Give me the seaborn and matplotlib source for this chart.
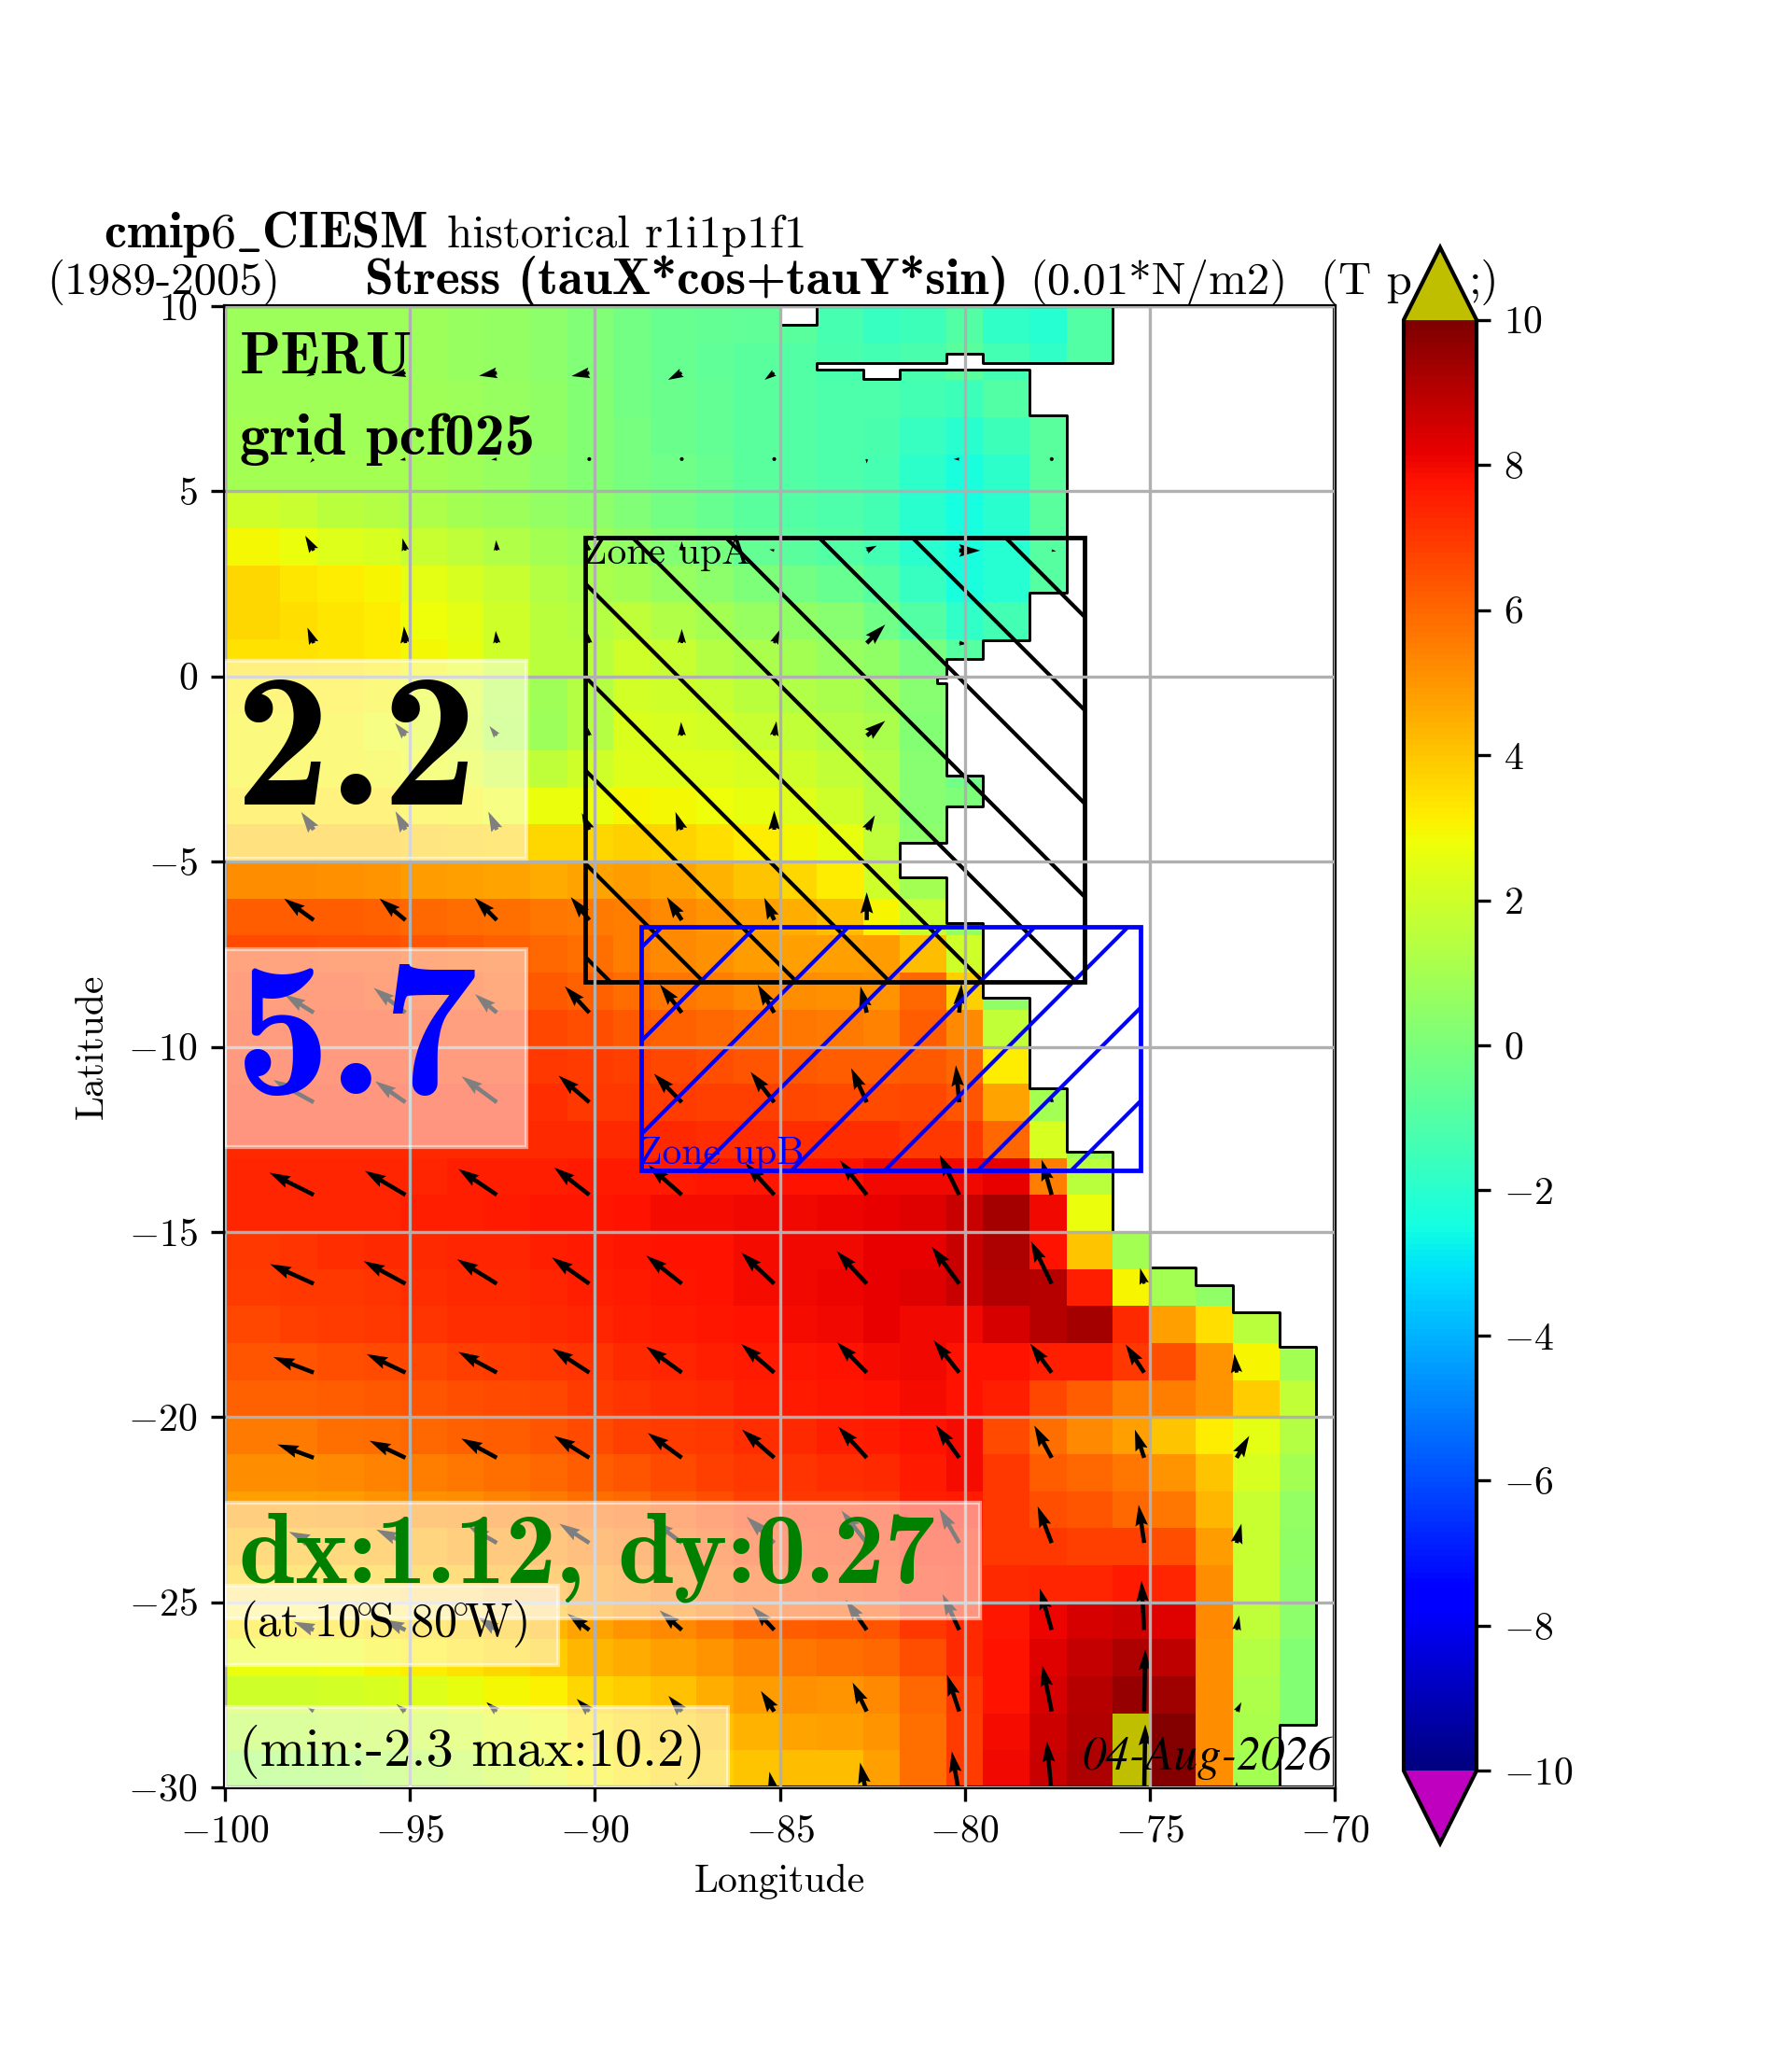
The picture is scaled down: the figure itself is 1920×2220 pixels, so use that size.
import numpy as np
import pandas as pd
import matplotlib
matplotlib.use('Agg')
import matplotlib.pyplot as plt
import seaborn as sns
from matplotlib.patches import Polygon, Rectangle

nan = np.nan

plt.rcParams['font.family'] = ['cmr10']
plt.rcParams['mathtext.fontset'] = 'cm'
plt.rcParams['axes.formatter.use_mathtext'] = True
plt.rcParams['axes.unicode_minus'] = True

# stress values, one row per degree of latitude from 10N down to 30S, west to east
row_09 = [.8,.8,.8,.8,.8,.7,.6,.4,.1,-.2,-.5,-.6,-.7,-.8,-1.3,-1.7,-1.5,-1.0,-1.8,-2.1,-1.0]
row_08 = [.8,.8,.8,.8,.8,.7,.6,.4,.1,-.2,-.5,-.7,-.8,-1,-1.2,-1.4,-1.2,-.8,-1.4,-1.8,-1]
row_07 = [.9,.9,.9,.9,.9,.8,.7,.5,.2,-.2,-.4,-.6,-.8,-1,-1.1,-1.1,-1.4,-1.5,-1,-.8]
row_06 = [1,.9,.9,.9,.9,.8,.7,.5,.2,-.1,-.4,-.6,-.8,-1,-1.1,-1.2,-1.7,-2,-1.5,-.8]
row_05 = [1,1,1,1,1,.9,.7,.4,.2,-.1,-.3,-.5,-.8,-1,-1.1,-1.3,-1.9,-2.4,-1.9,-.8]
row_04 = [2,1.8,1.5,1.4,1.2,1,.8,.6,.4,.1,-.2,-.5,-.8,-1,-1.1,-1.4,-2,-2.5,-2,-.8]
row_03 = [2.9,2.7,2.4,2.2,1.8,1.6,1.3,1,.8,.5,.2,-.1,-.6,-.8,-1,-1.4,-2,-2.4,-2.1,-.9]
row_02 = [3.6,3.3,3.2,3,2.5,2.2,1.8,1.4,1.1,1,.7,.4,0,-.2,-.5,-.9,-1.7,-2.4,-2.1,-.9]
row_01 = [3.6,3.5,3.3,3.2,2.8,2.5,2,1.5,1.4,1.6,1.3,1,.7,.5,.3,-.3,-1,-1.8,-1.4]
row_00 = [3.4,3.4,3.3,3.2,2.9,2.6,2,1.5,1.5,2,1.8,1.4,1.1,1,.7,.5,-.1,-.9]
row_s1 = [3.2,3.2,3.2,3,2.6,2.3,1.4,.9,1.4,2.1,2,1.8,1.5,1.3,1.1,.9,.3]
row_s2 = [3,3,3,2.8,2.5,2.2,1.3,.8,1.4,2.3,2.2,2.1,1.8,1.7,1.4,1.1,.2]
row_s3 = [3,3,3,2.9,2.8,2.5,2,1.6,2,2.4,2.4,2.4,2.2,2,1.7,1.3,.3,-.3]
row_s4 = [3.3,3.3,3.3,3.3,3.1,3,2.8,2.7,2.7,3,2.9,2.8,2.6,2.4,2,1.4,.3,0]
row_s5 = [4,4,4,4,3.9,3.8,3.7,3.6,3.6,3.8,3.7,3.5,3.2,2.9,2.6,1.6,.4]
row_s6 = [5.2,5.2,5.1,5,4.9,4.8,4.7,4.6,4.7,4.9,4.7,4.4,4,3.6,3.2,2,1]
row_s7 = [6.2,6.2,6.2,6.1,6,5.9,5.8,5.7,5.6,5.5,5.3,5,4.8,4.5,4.2,3,1.8,.6]
row_s8 = [6.6,6.6,6.5,6.5,6.4,6.3,6.1,6,5.8,5.5,5.3,5.1,4.9,4.8,4.8,4.9,4.2,2]
row_s9 = [6.8,6.8,6.8,6.7,6.6,6.5,6.4,6.3,6.1,5.9,5.7,5.5,5.3,5.2,5.1,5,6,3.8,.5]
row_s10 = [7,7,7,7,6.9,6.8,6.8,6.7,6.5,6.3,6.1,6,5.8,5.7,5.6,5.4,6.2,5.3,1.7]
row_s11 = [7.1,7.1,7.1,7.1,7,7,7,7,6.9,6.8,6.7,6.5,6.4,6.3,6.2,6.2,6.3,6,3.2]
row_s12 = [7.2,7.2,7.2,7.2,7.2,7.2,7.2,7.2,7,7,6.9,6.8,6.8,6.7,6.6,6.6,6.7,6.4,4.7,1]
row_s13 = [7.3,7.3,7.3,7.3,7.3,7.3,7.3,7.3,7.3,7.3,7.3,7.2,7.2,7.2,7.2,7.2,7,7,6,2.2,.8]
row_s14 = [7.4,7.4,7.4,7.4,7.4,7.5,7.5,7.5,7.6,7.6,7.6,7.7,7.7,7.8,7.8,8,8,8,8.2,5.5,1.5]
row_s15 = [7.4,7.4,7.4,7.4,7.5,7.5,7.6,7.7,7.7,7.8,7.9,7.9,8,8,8.1,8.2,8.3,8.7,9.3,8,2.7]
row_s16 = [7,7.1,7.2,7.3,7.3,7.4,7.4,7.5,7.6,7.7,7.8,7.8,7.9,8,8,8.2,8.2,8.7,9.2,7.8,4,1,1]
row_s17 = [6.9,7,7,7.1,7.2,7.3,7.3,7.4,7.5,7.6,7.7,7.8,7.9,8,8.1,8.2,8.3,8.7,9.1,9,7.5,3,1,.5]
row_s18 = [6.7,6.8,6.9,7,7.1,7.2,7.2,7.3,7.4,7.5,7.6,7.7,7.8,7.9,8,8.2,8,8,8.5,9,9.3,7.3,4.8,3.5,1.5]
row_s19 = [6.4,6.4,6.5,6.6,6.7,6.8,6.9,7,7.1,7.3,7.4,7.5,7.6,7.7,7.8,7.9,8,7.8,7.8,7.5,7.5,7,6.5,5,3,1]
row_s20 = [6.1,6.1,6.2,6.3,6.4,6.5,6.6,6.7,6.9,7.1,7.2,7.3,7.5,7.6,7.7,7.8,7.9,7.8,7.5,6.7,6.2,5.5,5.5,5,3.9,1.7]
row_s21 = [5.6,5.6,5.8,5.9,6,6.1,6.2,6.4,6.6,6.8,6.9,7,7.2,7.3,7.5,7.6,7.8,7.9,6.6,5.8,5.3,4.8,4,3.2,2.5,1.4]
row_s22 = [5.2,5.2,5.3,5.4,5.5,5.7,5.8,6,6.2,6.4,6.6,6.8,7,7.1,7.2,7.3,7.6,7.9,7,6.2,6,5.7,5,4,2.2,1]
row_s23 = [4.8,4.8,4.9,5,5.1,5.2,5.4,5.6,5.8,6,6.3,6.5,6.8,7,7,7.1,7.5,7.6,7,6.5,6.4,6,5.7,4.3,1.8,.6]
row_s24 = [4.3,4.3,4.4,4.5,4.6,4.8,5,5.2,5.4,5.7,6,6.3,6.6,6.8,6.9,7,7.4,7.4,7,7,6.8,6.8,6.5,4.9,1.8,.5]
row_s25 = [3.8,3.8,3.8,3.9,4.1,4.2,4.5,4.7,5,5.3,5.6,6,6.3,6.5,6.7,6.8,7.2,7.3,7.3,7.4,7.4,7.6,7.4,5.2,1.8,.4]
row_s26 = [3.3,3.3,3.4,3.5,3.6,3.8,4,4.3,4.7,5,5.3,5.6,6,6.2,6.3,6.4,7,7.3,7.7,8.1,8.5,8.6,8.3,5.3,1.6,.4]
row_s27 = [2.7,2.7,2.8,3,3.2,3.4,3.6,3.9,4.3,4.6,4.8,5,5.4,5.7,5.8,6,6.5,7.3,7.8,8.3,8.8,9.2,8.9,5.2,1.4,.2]
row_s28 = [2,2,2.1,2.2,2.4,2.6,2.9,3.1,3.6,3.9,4.1,4.5,4.9,5.1,5,5.3,6,7,7.8,8.5,9,9.6,9.4,5.2,1.2,.2]
row_s29 = [1.5,1.5,1.6,1.7,1.9,2.1,2.5,2.8,3.3,3.6,3.8,4.1,4.4,4.7,4.8,5,5.8,6.9,7.9,8.6,9.1,10.2,9.9,5.2,1.1,.2]
row_s30 = [.8,.9,1,1.2,1.4,1.6,2,2.5,3,3.3,3.6,3.8,4,4.2,4.2,4.8,5.8,6.9,8,8.7,9.2,10.2,9.9,5.2,1]
stress_rows = [row_09, row_08, row_07, row_06, row_05, row_04, row_03, row_02, row_01, row_00,
               row_s1, row_s2, row_s3, row_s4, row_s5, row_s6, row_s7, row_s8, row_s9, row_s10,
               row_s11, row_s12, row_s13, row_s14, row_s15, row_s16, row_s17, row_s18, row_s19, row_s20,
               row_s21, row_s22, row_s23, row_s24, row_s25, row_s26, row_s27, row_s28, row_s29, row_s30]

# model columns sit on the 0.25 degree plotting grid, so they come out 1 or 1.25 wide
col_cells = [6] + [4, 5] * 12 + [4, 2]

# wind stress arrows, tails at these positions
arrow_lon = [-97.6, -95.12, -92.65, -90.15, -87.65, -85.15, -82.65, -80.15, -77.65, -75.15, -72.65]
arrow_lat = [8.2, 5.87, 3.4, .9, -1.6, -4.14, -6.58, -9.08, -11.5, -14, -16.4, -18.8, -21.1, -23.4, -25.75, -27.95, -30.2]
arrow_u = [
    [-.2,-.38,-.48,-.48,-.37,-.26,nan,nan,nan,nan,nan],
    [-.1,-.15,-.15,-.1,0,0,0,-.15,0,nan,nan],
    [-.23,-.08,-.02,-.05,0,-.13,.27,.57,.12,nan,nan],
    [-.17,-.04,-.03,-.04,0,.15,.5,.22,nan,nan,nan],
    [-.2,-.28,-.2,-.04,-.02,.06,.5,nan,nan,nan,nan],
    [-.34,-.27,-.23,-.2,-.17,0,.22,nan,nan,nan,nan],
    [-.8,-.7,-.6,-.5,-.4,-.27,0,nan,nan,nan,nan],
    [-.79,-.86,-.59,-.66,-.59,-.45,-.17,.06,nan,nan,nan],
    [-1.09,-.82,-.95,-.83,-.75,-.64,-.42,-.09,0,nan,nan],
    [-1.2,-1.1,-1.04,-.95,-.9,-.78,-.72,-.53,-.27,nan,nan],
    [-1.18,-1.13,-1.07,-1.01,-.96,-.89,-.81,-.74,-.56,-.11,nan],
    [-1.09,-1.05,-1.04,-1,-.96,-.89,-.8,-.69,-.58,-.5,-.06],
    [-.98,-.97,-.96,-.95,-.92,-.87,-.77,-.63,-.47,-.25,.34],
    [-.67,-.79,-.77,-.81,-.79,-.75,-.68,-.54,-.38,-.15,.13],
    [-.54,-.6,-.51,-.59,-.6,-.59,-.57,-.45,-.32,-.07,.07],
    [-.17,-.24,-.28,-.34,-.36,-.36,-.38,-.33,-.25,.03,.13],
    [-.1,-.1,-.15,-.15,-.2,-.13,-.18,-.2,-.13,.03,0],
]
arrow_v = [
    [-.1,-.08,-.08,-.09,-.19,-.19,nan,nan,nan,nan,nan],
    [-.1,-.03,-.02,-.03,0,0,-.12,0,0,nan,nan],
    [.4,.33,.28,.2,.25,.03,.13,0,-.02,nan,nan],
    [.42,.45,.33,.27,.38,.36,.5,-.02,nan,nan,nan],
    [.3,.34,.26,.22,.37,.39,.4,nan,nan,nan,nan],
    [.48,.5,.49,.45,.48,.52,.39,nan,nan,nan,nan],
    [.58,.58,.6,.62,.62,.6,.75,nan,nan,nan,nan],
    [.49,.67,.5,.71,.76,.76,.71,.78,nan,nan,nan],
    [.6,.57,.7,.72,.77,.82,.92,1,.2,nan,nan],
    [.6,.65,.7,.74,.8,.86,.93,1.08,.95,nan,nan],
    [.53,.61,.66,.71,.76,.84,.88,1,1.15,.42,nan],
    [.42,.5,.56,.65,.7,.77,.82,.87,.78,.76,.51],
    [.36,.46,.52,.59,.67,.76,.84,.88,.87,.76,.59],
    [.3,.36,.45,.52,.6,.71,.87,.93,.99,1.03,.52],
    [.22,.28,.36,.44,.53,.63,.82,.97,1.12,1.33,.39],
    [.11,.19,.25,.34,.42,.55,.78,.99,1.24,1.68,.25],
    [.1,.15,.2,.25,.35,.62,.87,1.17,1.45,1.9,.35],
]

# ocean edge
coast_notch_lon = [-85, -85, -84, -84]
coast_notch_lat = [10, 9.5, 9.5, 10]
coast_lon = [-76,-76,-79.5,-79.5,-80.5,-80.5,-84,-84,-82.75,-82.75,-81.75,-81.75,-78.25,-78.25,-77.25,-77.25,-78.25,-78.25,
             -79.5,-79.5,-80.5,-80.5,-80.75,-80.75,-80.5,-80.5,-79.5,-79.5,-80.5,-80.5,-81.75,-81.75,-80.5,-80.5,-79.5,-79.5,
             -78.25,-78.25,-77.25,-77.25,-76,-76,-75,-75,-73.75,-73.75,-72.75,-72.75,-71.5,-71.5,-70.5,-70.5,-71.5,-71.5]
coast_lat = [10,8.46,8.46,8.71,8.71,8.46,8.46,8.29,8.29,8.03,8.03,8.29,8.29,7.05,7.05,2.25,2.25,.98,
             .98,.47,.47,-.03,-.03,-.18,-.18,-2.68,-2.68,-3.52,-3.52,-4.5,-4.5,-5.43,-5.43,-6.67,-6.67,-8.68,
             -8.68,-11.12,-11.12,-12.83,-12.83,-15,-15,-15.97,-15.97,-16.45,-16.45,-17.17,-17.17,-18.1,-18.1,-28.3,-28.3,-30]

# boxes behind the annotations: lon0, lon1, lat0, lat1
box_mean_a = [-100, -91.85, -4.92, .42]
box_mean_b = [-100, -91.85, -12.7, -7.36]
box_res = [-100, -79.6, -25.43, -22.31]
box_at = [-100, -90.98, -26.7, -24.55]
box_minmax = [-100, -86.4, -30, -27.83]

# upwelling zones: lon0, lon1, lat0, lat1
zone_a = [-90.25, -76.75, -8.25, 3.75]
zone_b = [-88.75, -75.25, -13.35, -6.75]

x_ticks = [-100, -95, -90, -85, -80, -75, -70]
y_ticks = [-30, -25, -20, -15, -10, -5, 0, 5, 10]
cbar_ticks = [-10, -8, -6, -4, -2, 0, 2, 4, 6, 8, 10]

W, H = 1920, 2220
fig = plt.figure(figsize=(6.4, 7.4), dpi=300)
rect = [241 / W, 1 - 1915 / H, 1189 / W, 1587 / H]
ax_map = fig.add_axes(rect)
ax = fig.add_axes(rect)
ax.patch.set_visible(False)
cax = fig.add_axes([1504 / W, 1 - 1975 / H, 78 / W, 1710 / H])

# heatmap on its own cell grid, lon/lat axes laid over it
table = np.array([r + [nan] * (len(col_cells) - len(r)) for r in stress_rows], dtype=float)
table = pd.DataFrame(np.repeat(table, col_cells, axis=1))
cmap = plt.get_cmap('jet').copy()
cmap.set_under('m')
cmap.set_over((.75, .75, 0))
sns.heatmap(table, vmin=-10, vmax=10, cmap=cmap, ax=ax_map, cbar_ax=cax,
            cbar_kws={'extend': 'both'}, xticklabels=False, yticklabels=False)
ax_map.axis('off')

ax.set_xlim(-100, -70)
ax.set_ylim(-30, 10)

# cut the mesh along the coast
ocean = list(zip([-100, -100] + coast_notch_lon + coast_lon, [-30, 10] + coast_notch_lat + coast_lat))
mesh = ax_map.collections[0]
mesh.set_clip_path(Polygon(ocean, closed=True, transform=ax.transData))

ax.quiver(arrow_lon, arrow_lat, np.array(arrow_u), np.array(arrow_v), angles='xy', scale_units='xy',
          scale=1, width=0.0038, color='k', zorder=1)

ax.plot(coast_notch_lon, coast_notch_lat, color='k', lw=.7, zorder=1.5)
ax.plot(coast_lon, coast_lat, color='k', lw=.7, zorder=1.5)


def zone(bounds, color, sign, first):
    lon0, lon1, lat0, lat1 = bounds
    frame = Rectangle((lon0, lat0), lon1 - lon0, lat1 - lat0, fill=False, ec=color, lw=1.15, zorder=2)
    ax.add_patch(frame)
    # hatch lines 2.52 degrees apart, 45 degrees on the page
    for c in np.arange(-12, 12) * 2.52 + first:
        line, = ax.plot([lon0 - 2, lon1 + 2], [c + sign * (lon0 - 2), c + sign * (lon1 + 2)], color=color, lw=1, zorder=1.8)
        line.set_clip_path(frame)


zone(zone_a, 'k', -1, -75.15)
zone(zone_b, 'b', 1, 66.3)

for b in [box_mean_a, box_mean_b, box_res, box_at, box_minmax]:
    ax.add_patch(Rectangle((b[0], b[2]), b[1] - b[0], b[3] - b[2], fc=(1, 1, 1, .5), ec=(1, 1, 1, .5), lw=1, zorder=3))

ax.text(-99.6, 8.21, 'PERU', family='cmb10', fontsize=15.5, va='baseline', zorder=4)
ax.text(-99.6, 6.0, 'grid pcf025', family='cmb10', fontsize=15.5, va='baseline', zorder=4)
ax.text(-99.72, -3.47, '2.2', family='cmb10', fontsize=49, va='baseline', zorder=4)
ax.text(-99.72, -11.27, '5.7', family='cmb10', fontsize=49, color='b', va='baseline', zorder=4)
ax.text(-99.62, -24.48, 'dx:1.12, dy:0.27', family='cmb10', fontsize=26, color='g', va='baseline', zorder=4)
ax.text(-99.62, -25.91, r'(at 10$\!{}^{\circ}\!$S 80$\!{}^{\circ}\!$W)', fontsize=12, va='baseline', zorder=4)
ax.text(-99.62, -29.42, '(min:-2.3 max:10.2)', fontsize=14, va='baseline', zorder=4)
ax.text(-70.07, -29.52, '04-Aug-2026', family='STIXGeneral', style='italic', fontsize=12.2, ha='right', va='baseline', zorder=4)
ax.text(-90.3, 3.04, 'Zone upA', fontsize=10, va='baseline', zorder=4)
ax.text(-88.82, -13.16, 'Zone upB', fontsize=10, color='b', va='baseline', zorder=4)

ax.set_xticks(x_ticks)
ax.set_yticks(y_ticks)
ax.grid(True, color='#b0b0b0', lw=.8)
ax.set_axisbelow(False)
ax.tick_params(labelsize=10)
ax.set_xlabel('Longitude', fontsize=10)
ax.set_ylabel('Latitude', fontsize=10)
ax.xaxis.set_label_coords(.5, -.0515)
ax.yaxis.set_label_coords(-.104, .5)
for s in ax.spines.values():
    s.set_linewidth(1)

cb = mesh.colorbar
cb.set_ticks(cbar_ticks)
cb.outline.set_linewidth(1)
cb.outline.set_edgecolor('k')
cb.ax.tick_params(labelsize=10, length=3.5, width=.8)


def title_text(x, y, s, size=11.75, **kw):
    fig.text(x / W, 1 - y / H, s, fontsize=size, va='baseline', zorder=-1, **kw)


title_text(111, 265, r'$\mathbf{cmip6\_CIESM}$', size=13)
title_text(479, 265, 'historical r1i1p1f1')
title_text(50, 315, '(1989-2005)')
title_text(391, 315, 'Stress (tauX*cos+tauY*sin)', family='cmb10', size=13.3)
title_text(1103, 315, '(0.01*N/m2)')
title_text(1415, 315, '(T p')
title_text(1606, 315, ';)', ha='right')

fig.savefig('out.png', dpi=300, facecolor='white')
